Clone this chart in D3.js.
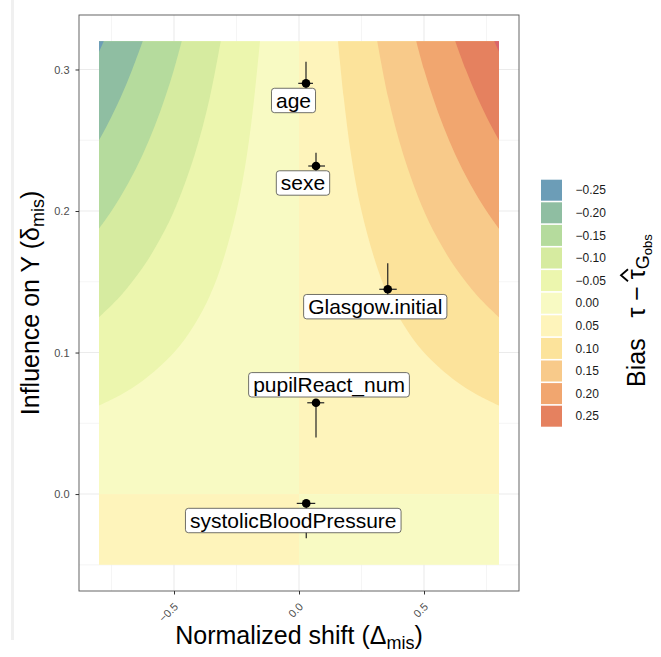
<!DOCTYPE html>
<html>
<head>
<meta charset="utf-8">
<script src="https://cdn.jsdelivr.net/npm/d3@7"></script>
<style>
  body { margin: 0; background: #fff; }
  svg text { font-family: "Liberation Sans", Arial, Helvetica, sans-serif; }
</style>
</head>
<body>
<div class="chart"></div>
<script>
// variables with estimated shift / influence and their intervals
const variables = ["age", "sexe", "Glasgow.initial", "pupilReact_num", "systolicBloodPressure"];
const shift = [0.028, 0.068, 0.355, 0.068, 0.029];
const shiftLow = [-0.003, 0.037, 0.321, 0.033, -0.009];
const shiftHigh = [0.056, 0.104, 0.391, 0.101, 0.065];
const influence = [0.2902, 0.2318, 0.1447, 0.0645, -0.0066];
const influenceLow = [0.2745, 0.2222, 0.1265, 0.040, -0.0313];
const influenceHigh = [0.3055, 0.2412, 0.163, 0.066, -0.0045];
// label anchors (data units)
const labelShift = [-0.022, 0.016, 0.305, 0.12, -0.023];
const labelInfluence = [0.2781, 0.2198, 0.1324, 0.0772, -0.0187];

// contour grid extent
const shiftRange = [-0.8, 0.8];
const influenceRange = [-0.05, 0.32];

// iso-bias lines, [|shift|, influence]; left side is the mirror
const iso05 = [[0.156, 0.32], [0.179, 0.28], [0.208, 0.24], [0.25, 0.20], [0.313, 0.16], [0.357, 0.14], [0.417, 0.12], [0.5, 0.10], [0.625, 0.08], [0.714, 0.07], [0.8, 0.0625]];
const iso10 = [[0.313, 0.32], [0.357, 0.28], [0.417, 0.24], [0.5, 0.20], [0.556, 0.18], [0.625, 0.16], [0.714, 0.14], [0.8, 0.125]];
const iso15 = [[0.469, 0.32], [0.5, 0.30], [0.536, 0.28], [0.577, 0.26], [0.625, 0.24], [0.682, 0.22], [0.75, 0.20], [0.8, 0.1875]];
const iso20 = [[0.625, 0.32], [0.667, 0.30], [0.714, 0.28], [0.769, 0.26], [0.8, 0.25]];
const iso25 = [[0.781, 0.32], [0.8, 0.3125]];
const isoLines = [iso05, iso10, iso15, iso20, iso25];

// legend bins
const biasLevels = ["-0.25", "-0.20", "-0.15", "-0.10", "-0.05", "0.00", "0.05", "0.10", "0.15", "0.20", "0.25"];
const biasColors = ["#6C9DB7", "#8FBEA2", "#B5DB9D", "#D6EBA0", "#ECF6AE", "#F8FAC3", "#FEF4BB", "#FCE39B", "#F8CA8A", "#F1A66F", "#E5815F"];
const beyondColor = "#D9646A";

const xTicks = [-0.5, 0, 0.5];
const xMinor = [-0.75, -0.25, 0.25, 0.75];
const yTicks = [0, 0.1, 0.2, 0.3];
const yMinor = [-0.05, 0.05, 0.15, 0.25];

const W = 661, H = 657;
const panel = { left: 79, right: 519, top: 15, bottom: 591 };

let svg = d3.select('.chart')
    .append('svg')
    .attr('width', W)
    .attr('height', H);

// faint window edge like the screenshot
svg.append('rect').attr('x', 11).attr('y', 0).attr('width', 3).attr('height', 640).attr('fill', '#F0F0F0');

let xScale = d3.scaleLinear()
    .domain([-0.88, 0.88])
    .range([panel.left, panel.right]);

let yScale = d3.scaleLinear()
    .domain([-0.0685, 0.3385])
    .range([panel.bottom, panel.top]);

let cScale = d3.scaleOrdinal()
    .domain(biasLevels)
    .range(biasColors);

// grid
let grid = svg.append('g');
grid.selectAll('.vminor').data(xMinor).enter().append('line')
    .attr('x1', d => xScale(d)).attr('x2', d => xScale(d))
    .attr('y1', panel.top).attr('y2', panel.bottom)
    .attr('stroke', '#EFEFEF').attr('stroke-width', 0.6);
grid.selectAll('.hminor').data(yMinor).enter().append('line')
    .attr('y1', d => yScale(d)).attr('y2', d => yScale(d))
    .attr('x1', panel.left).attr('x2', panel.right)
    .attr('stroke', '#EFEFEF').attr('stroke-width', 0.6);
grid.selectAll('.vmajor').data(xTicks).enter().append('line')
    .attr('x1', d => xScale(d)).attr('x2', d => xScale(d))
    .attr('y1', panel.top).attr('y2', panel.bottom)
    .attr('stroke', '#EBEBEB').attr('stroke-width', 1.1);
grid.selectAll('.hmajor').data(yTicks).enter().append('line')
    .attr('y1', d => yScale(d)).attr('y2', d => yScale(d))
    .attr('x1', panel.left).attr('x2', panel.right)
    .attr('stroke', '#EBEBEB').attr('stroke-width', 1.1);

// filled contours
let fill = svg.append('g');

function quad(x0, x1, y0, y1, color) {
    fill.append('rect')
        .attr('x', xScale(x0))
        .attr('y', yScale(y1))
        .attr('width', xScale(x1) - xScale(x0))
        .attr('height', yScale(y0) - yScale(y1))
        .attr('fill', color);
}

quad(shiftRange[0], 0, 0, influenceRange[1], cScale("0.00"));
quad(0, shiftRange[1], 0, influenceRange[1], cScale("0.05"));
quad(shiftRange[0], 0, influenceRange[0], 0, cScale("0.05"));
quad(0, shiftRange[1], influenceRange[0], 0, cScale("0.00"));

const leftBins = ["-0.05", "-0.10", "-0.15", "-0.20", "-0.25"];
const rightBins = ["0.10", "0.15", "0.20", "0.25", null];

let curve = d3.line()
    .x(d => xScale(d[0]))
    .y(d => yScale(d[1]))
    .curve(d3.curveCatmullRom);

isoLines.forEach((pts, i) => {
    let left = pts.map(p => [-p[0], p[1]]);
    fill.append('path')
        .attr('d', curve(left) + `L${xScale(shiftRange[0])},${yScale(influenceRange[1])}Z`)
        .attr('fill', cScale(leftBins[i]));
    fill.append('path')
        .attr('d', curve(pts) + `L${xScale(shiftRange[1])},${yScale(influenceRange[1])}Z`)
        .attr('fill', rightBins[i] ? cScale(rightBins[i]) : beyondColor);
});

// panel border
svg.append('rect')
    .attr('x', panel.left).attr('y', panel.top)
    .attr('width', panel.right - panel.left).attr('height', panel.bottom - panel.top)
    .attr('fill', 'none').attr('stroke', '#555').attr('stroke-width', 0.9);

// axes
const fmt = d3.format(".1f");
let xAxis = svg.append('g')
    .attr('transform', `translate(0, ${panel.bottom})`)
    .call(d3.axisBottom(xScale).tickValues(xTicks).tickFormat(fmt).tickSize(3.5).tickSizeOuter(0));
xAxis.select('.domain').remove();
xAxis.selectAll('line').attr('stroke', '#333');
xAxis.selectAll('text')
    .attr('fill', '#4D4D4D').attr('font-size', 11)
    .attr('y', 0).attr('dy', 0)
    .attr('text-anchor', 'end')
    .attr('transform', 'translate(4.3, 16.4) rotate(-45)');

let yAxis = svg.append('g')
    .attr('transform', `translate(${panel.left}, 0)`)
    .call(d3.axisLeft(yScale).tickValues(yTicks).tickFormat(fmt).tickSize(3.5).tickPadding(6).tickSizeOuter(0));
yAxis.select('.domain').remove();
yAxis.selectAll('line').attr('stroke', '#333');
yAxis.selectAll('text').attr('fill', '#4D4D4D').attr('font-size', 11);

// axis titles
let xt = svg.append('text')
    .attr('x', (panel.left + panel.right) / 2)
    .attr('y', 644)
    .attr('text-anchor', 'middle')
    .attr('font-size', 25)
    .attr('fill', '#000');
xt.append('tspan').text('Normalized shift (Δ');
xt.append('tspan').attr('font-size', 18).attr('dy', 5).text('mis');
xt.append('tspan').attr('dy', -5).text(')');

let yt = svg.append('text')
    .attr('transform', `translate(39, ${(panel.top + panel.bottom) / 2}) rotate(-90)`)
    .attr('text-anchor', 'middle')
    .attr('font-size', 25)
    .attr('fill', '#000');
yt.append('tspan').text('Influence on Y (δ');
yt.append('tspan').attr('font-size', 18).attr('dy', 5).text('mis');
yt.append('tspan').attr('dy', -5).text(')');

// error bars and points
let marks = svg.append('g');
variables.forEach((v, i) => {
    marks.append('line')
        .attr('x1', xScale(shift[i])).attr('x2', xScale(shift[i]))
        .attr('y1', yScale(influenceLow[i])).attr('y2', yScale(influenceHigh[i]))
        .attr('stroke', '#222').attr('stroke-width', 1.2);
    marks.append('line')
        .attr('x1', xScale(shiftLow[i])).attr('x2', xScale(shiftHigh[i]))
        .attr('y1', yScale(influence[i])).attr('y2', yScale(influence[i]))
        .attr('stroke', '#222').attr('stroke-width', 1.2);
    marks.append('circle')
        .attr('cx', xScale(shift[i])).attr('cy', yScale(influence[i]))
        .attr('r', 4.3).attr('fill', '#000');
});

// labels
let labels = svg.append('g');
variables.forEach((v, i) => {
    let g = labels.append('g')
        .attr('transform', `translate(${xScale(labelShift[i])}, ${yScale(labelInfluence[i])})`);
    let box = g.append('rect');
    let t = g.append('text')
        .attr('text-anchor', 'middle')
        .attr('y', 7.5)
        .attr('font-size', 21)
        .attr('fill', '#000')
        .text(v);
    let w = t.node().getComputedTextLength() + 9;
    box.attr('x', -w / 2).attr('y', -12.2)
        .attr('width', w).attr('height', 24.4)
        .attr('rx', 3).attr('ry', 3)
        .attr('fill', '#fff').attr('stroke', '#333').attr('stroke-width', 0.7);
});

// legend
let legend = svg.append('g');
let keys = legend.selectAll('.key')
    .data(biasLevels)
    .enter()
    .append('g')
    .attr('transform', (d, i) => `translate(541, ${179.7 + i * 22.6})`);
keys.append('rect')
    .attr('width', 21).attr('height', 21)
    .attr('fill', d => cScale(d));
keys.append('text')
    .attr('x', 34.5).attr('y', 10.5).attr('dy', '0.35em')
    .attr('font-size', 12).attr('fill', '#1A1A1A')
    .text(d => d.replace('-', '\u2212'));

// legend title: Bias  τ − τ̂_G_obs, rotated
let lt = legend.append('g')
    .attr('transform', 'translate(645, 387) rotate(-90)');
let ltt = lt.append('text').attr('font-size', 25).attr('fill', '#000');
const head = 'Bias\u00A0\u00A0\u00A0τ − τ';
ltt.append('tspan').text(head);
ltt.append('tspan').attr('font-size', 18).attr('dy', 4).text('G');
ltt.append('tspan').attr('font-size', 13).attr('dy', 3).text('obs');
let tauW = ltt.node().getSubStringLength(0, head.length);
let hatX = tauW - 6;
lt.append('path')
    .attr('d', `M${hatX - 6},-17L${hatX},-24L${hatX + 6},-17`)
    .attr('fill', 'none').attr('stroke', '#000').attr('stroke-width', 1.8);
</script>
</body>
</html>
